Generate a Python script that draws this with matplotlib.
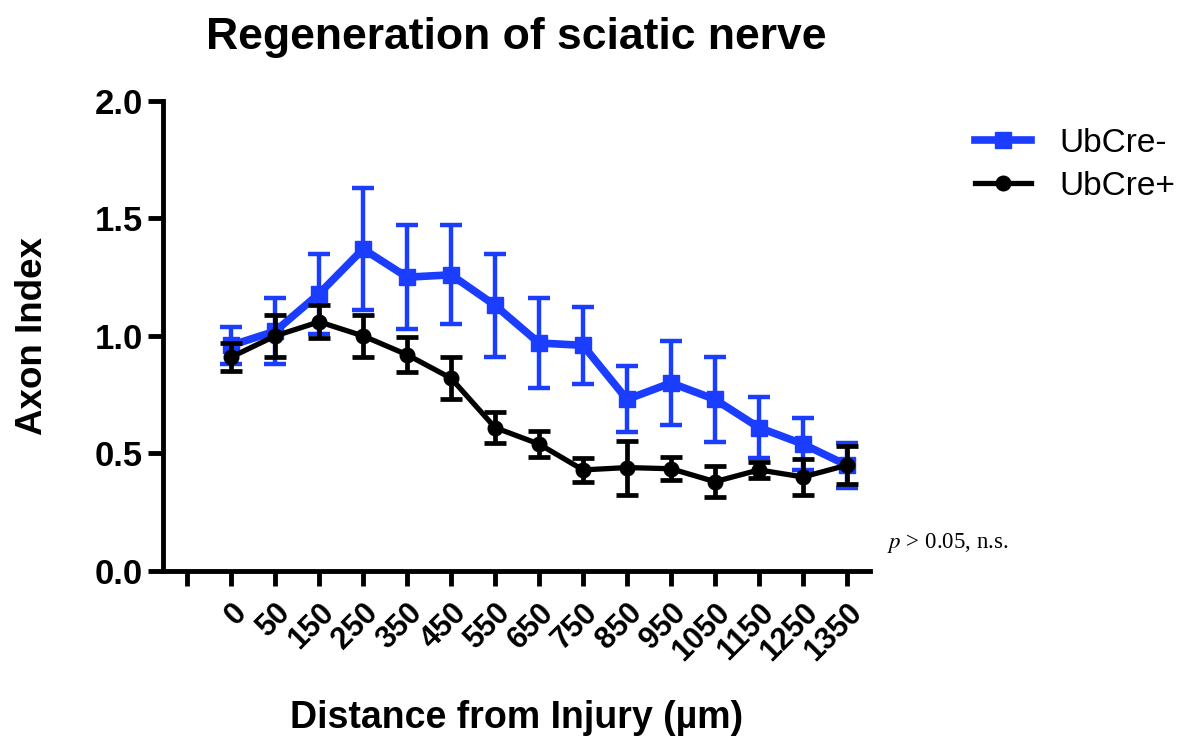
import matplotlib.pyplot as plt
import numpy as np

plt.rcParams["font.family"] = ["Liberation Sans", "DejaVu Sans"]
plt.rcParams["mathtext.fontset"] = "stix"

# Data
distances = ["0", "50", "150", "250", "350", "450", "550", "650", "750",
             "850", "950", "1050", "1150", "1250", "1350"]
cre_neg = [0.96, 1.02, 1.18, 1.37, 1.25, 1.26, 1.13, 0.97, 0.96,
           0.73, 0.80, 0.73, 0.61, 0.54, 0.45]
cre_neg_err = [0.08, 0.14, 0.17, 0.26, 0.22, 0.21, 0.22, 0.19, 0.165,
               0.14, 0.18, 0.18, 0.13, 0.11, 0.095]
cre_pos = [0.91, 1.00, 1.06, 1.00, 0.92, 0.82, 0.61, 0.54, 0.43,
           0.44, 0.435, 0.38, 0.43, 0.40, 0.45]
cre_pos_err = [0.06, 0.09, 0.07, 0.09, 0.075, 0.09, 0.065, 0.055, 0.05,
               0.115, 0.05, 0.065, 0.035, 0.075, 0.08]

blue = "#1a3dff"
x = np.arange(len(distances))

fig = plt.figure(figsize=(12.04, 7.38), dpi=100)
ax = fig.add_axes([0.1354, 0.2263, 0.587, 0.637])

eb1 = ax.errorbar(x, cre_neg, yerr=cre_neg_err, color=blue, lw=5.5, marker="s",
                  markersize=12, elinewidth=3.2, capsize=8, capthick=3.2,
                  label="UbCre-", zorder=2)
eb2 = ax.errorbar(x, cre_pos, yerr=cre_pos_err, color="black", lw=3.8,
                  marker="o", markersize=10.5, elinewidth=3.4, capsize=8,
                  capthick=3.4, label="UbCre+", zorder=3)

ax.set_xlim(-1.55, 14.52)
ax.set_ylim(0, 2.0)
ax.set_xticks(np.arange(-1, len(distances)))
ax.set_xticklabels([""] + distances, rotation=45, ha="right",
                   rotation_mode="anchor", fontsize=22, fontweight="bold")
ax.set_yticks([0, 0.5, 1.0, 1.5, 2.0])
ax.set_yticklabels(["0.0", "0.5", "1.0", "1.5", "2.0"], fontsize=25,
                   fontweight="bold")

for s in ["top", "right"]:
    ax.spines[s].set_visible(False)
for s in ["left", "bottom"]:
    ax.spines[s].set_linewidth(3.5)
ax.tick_params(axis="both", direction="out", length=11, width=3.5)
ax.tick_params(axis="x", pad=8)

ax.set_title("Regeneration of sciatic nerve", fontsize=32, fontweight="bold",
             pad=37)
ax.set_ylabel("Axon Index", fontsize=26.5, fontweight="bold", labelpad=32)
ax.set_xlabel("Distance from Injury (µm)", fontsize=27, fontweight="bold",
              labelpad=24)

ax.legend([eb1[0], eb2[0]], ["UbCre-", "UbCre+"], loc="upper left",
          bbox_to_anchor=(0.8098, 0.8266), bbox_transform=fig.transFigure,
          frameon=False, fontsize=24, handlelength=1.67, labelspacing=0.36,
          handletextpad=0.85, borderpad=0, borderaxespad=0)

fig.text(0.737, 0.2575, r"$p$ > 0.05, n.s.", fontsize=16.5, va="baseline",
         family="Liberation Serif")

plt.savefig("out.png", dpi=100)
